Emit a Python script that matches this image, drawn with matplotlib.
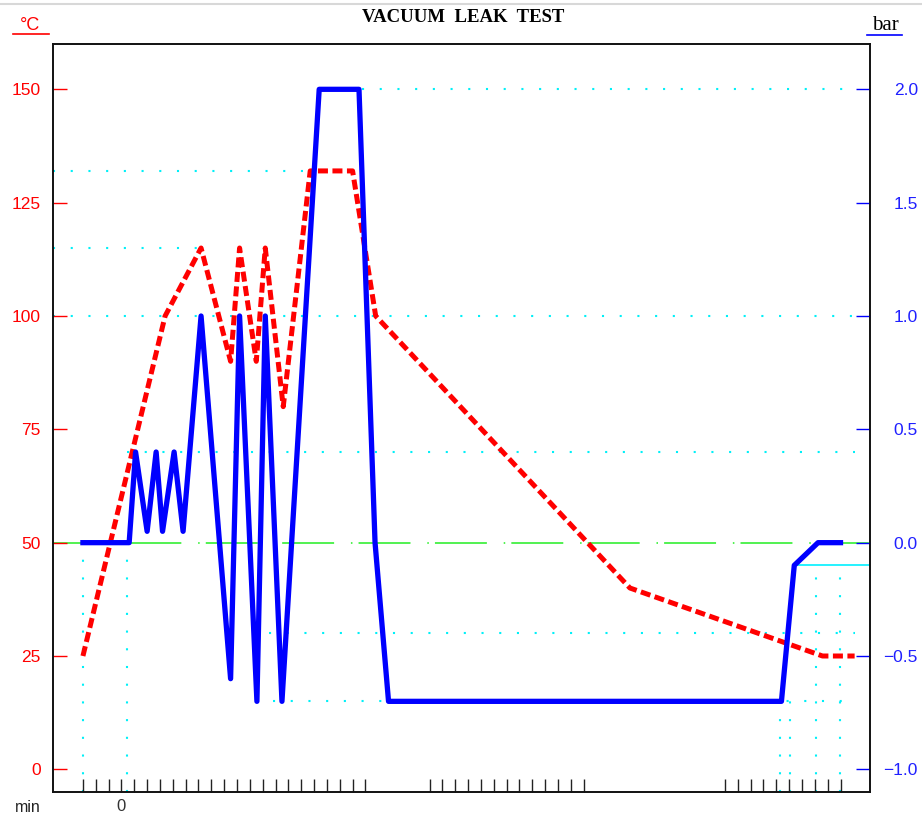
import numpy as np
import matplotlib.pyplot as plt
from matplotlib.lines import Line2D

plt.rcParams['font.family'] = ['Liberation Sans', 'DejaVu Sans']

# time axis (min), tick marks at sample minutes
ticks_min = list(range(-3, 20)) + list(range(24, 37)) + list(range(47, 57))

# temperature (left axis, deg C)
temp_t = [-3.0, 3.4, 6.2, 8.5, 9.2, 10.5, 11.2, 12.6, 14.7, 18.0, 19.8, 39.6, 54.6, 57.1]
temp_c = [25, 100, 115, 90, 115, 90, 115, 80, 132, 132, 100, 40, 25, 25]

# pressure (right axis, bar)
press_t = [-3.0, 0.6, 1.1, 2.0, 2.7, 3.2, 4.1, 4.8, 6.2, 8.5, 9.2, 10.55, 11.2,
           12.5, 15.4, 18.5, 19.75, 20.8, 51.4, 52.4, 54.25, 56.0]
press_bar = [0.0, 0.0, 0.4, 0.05, 0.4, 0.05, 0.4, 0.05, 1.0, -0.6, 1.0, -0.7, 1.0,
             -0.7, 2.0, 2.0, 0.0, -0.7, -0.7, -0.1, 0.0, 0.0]

temp_ticks = [0, 25, 50, 75, 100, 125, 150]
press_ticks = [-1.0, -0.5, 0.0, 0.5, 1.0, 1.5, 2.0]

# cyan reference lines (level in deg C, from, to)
ref_h = [(150, 18.7, 57.1), (132, -5.3, 14.3), (115, -5.3, 6.1), (100, -5.3, 57.1),
         (70, 0.45, 57.1), (30, 11.5, 57.1), (15, 11.8, 57.1)]
ref_v = [(-3.0, 50), (0.45, 50), (51.3, 15), (52.1, 15), (54.1, 45), (55.96, 45)]

fig = plt.figure(figsize=(9.22, 8.16), dpi=100)
ax = fig.add_axes([0.0575, 0.0294, 0.886, 0.9167])
ax.set_xlim(-5.33, 58.29)
ax.set_ylim(-5, 160)

dot = (0, (1.0, 7.5))
for lev, a, b in ref_h:
    ax.plot([a, b], [lev, lev], color='#00f0f8', lw=1.5, linestyle=dot, zorder=1)
for x, top in ref_v:
    ax.plot([x, x], [-5, top], color='#00f0f8', lw=1.5, linestyle=dot, zorder=1)
ax.plot([52.4, 58.29], [45, 45], color='#00f0ff', lw=1.2, zorder=1)
ax.axhline(50, color='#22ee22', lw=1.1, linestyle=(0, (34, 11, 1, 4)), zorder=1)

ax.plot(temp_t, temp_c, color='red', lw=3.6, linestyle=(0, (2.0, 0.9)),
        dash_capstyle='butt', zorder=3)

ax.set_yticks(temp_ticks)
ax.set_yticklabels([str(v) for v in temp_ticks])
ax.tick_params(axis='y', direction='in', length=10, width=1, color='red',
               labelcolor='red', labelsize=12.5, pad=9)
ax.set_xticks(ticks_min)
ax.set_xticklabels(['0' if t == 0 else '' for t in ticks_min])
ax.tick_params(axis='x', direction='in', length=9.5, width=1, color='#222222',
               labelcolor='#333333', labelsize=12, pad=5)

ax2 = ax.twinx()
ax2.set_ylim(-1.1, 2.2)
ax2.plot(press_t, press_bar, color='blue', lw=3.8, zorder=4)
ax2.set_yticks(press_ticks)
ax2.set_yticklabels([f'{v:.1f}'.replace('-', '\u2212') for v in press_ticks])
ax2.tick_params(axis='y', direction='in', length=10, width=1, color='blue',
                labelcolor='#2020ff', labelsize=12.5, pad=34.5)
for lab in ax2.get_yticklabels():
    lab.set_horizontalalignment('right')

for a in (ax, ax2):
    for s in a.spines.values():
        s.set_linewidth(1.2)
        s.set_color('#111111')

fig.text(0.502, 1 - 18 / 816, 'VACUUM  LEAK  TEST', ha='center', va='center',
         family='Liberation Serif', weight='bold', size=13.5)
fig.text(885 / 922, 1 - 26 / 816, 'bar', ha='center', va='center',
         family='Liberation Serif', size=15)
fig.add_artist(Line2D([867 / 922, 902 / 922], [1 - 35 / 816] * 2, color='blue', lw=1.2))
fig.text(30 / 922, 1 - 25 / 816, '\u00b0C', ha='center', va='center', color='red', size=13)
fig.add_artist(Line2D([13 / 922, 49 / 922], [1 - 34 / 816] * 2, color='red', lw=1.2))
fig.text(28 / 922, 1 - 807 / 816, 'min', ha='center', va='center', size=11.5, color='#222222')
fig.add_artist(Line2D([0, 1], [1 - 4 / 816] * 2, color='#d8d8d8', lw=1.5))

fig.savefig('out.png', dpi=100)
